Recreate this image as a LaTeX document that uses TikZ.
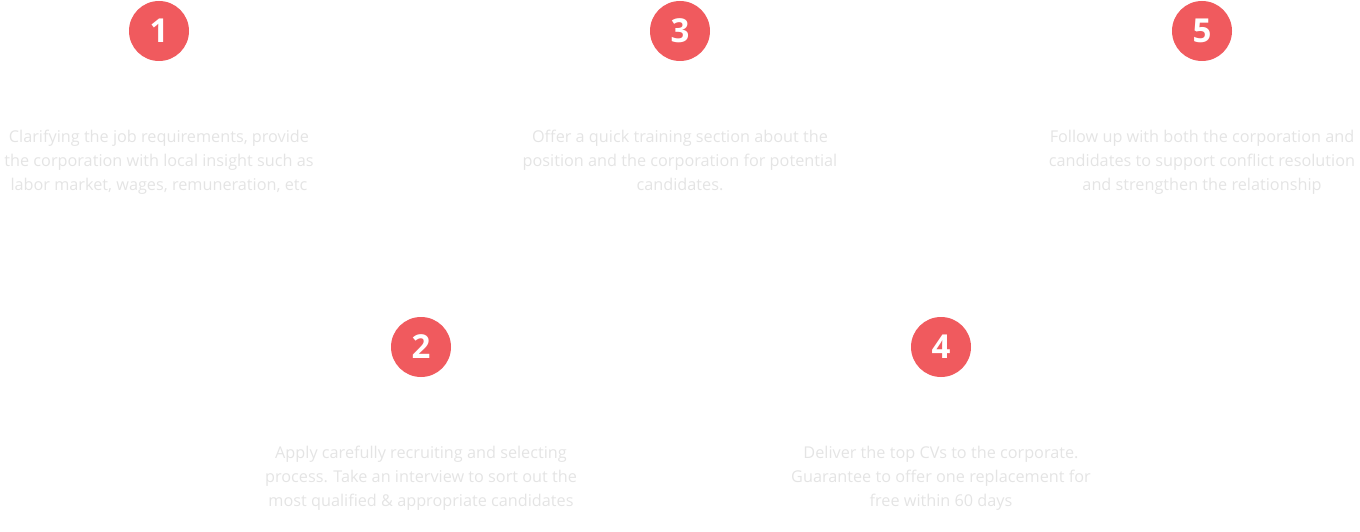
\documentclass[tikz,border=0pt]{standalone}
\usepackage{fontspec}
\setmainfont{Open Sans}
\definecolor{badge}{HTML}{F05A5E}
\definecolor{desc}{HTML}{E4E4E4}
\begin{document}
\begin{tikzpicture}[x=1pt,y=-1pt,
  badgestyle/.style={circle,fill=badge,minimum size=60pt,inner sep=0pt,text=white,font=\fontsize{33}{33}\selectfont\bfseries},
  descstyle/.style={text=desc,align=center,font=\fontsize{16.25}{24}\selectfont,inner sep=0pt,execute at end node=\strut}]
\useasboundingbox (0,0) rectangle (1360,532);
\node[badgestyle] (b1) at (159,31) {1};
\node[badgestyle] (b3) at (680,31) {3};
\node[badgestyle] (b5) at (1202,31) {5};
\node[badgestyle] (b2) at (421,347) {2};
\node[badgestyle] (b4) at (941,347) {4};
\node[descstyle] (t1) at (159,164) {Clarifying the job requirements, provide\\the corporation with local insight such as\\labor market, wages, remuneration, etc};
\node[descstyle] (t3) at (680,164) {Offer a quick training section about the\\position and the corporation for potential\\candidates.};
\node[descstyle] (t5) at (1202,164) {Follow up with both the corporation and\\candidates to support conflict resolution\\and strengthen the relationship};
\node[descstyle] (t2) at (421,480) {Apply carefully recruiting and selecting\\process. Take an interview to sort out the\\most qualified \& appropriate candidates};
\node[descstyle] (t4) at (941,480) {Deliver the top CVs to the corporate.\\Guarantee to offer one replacement for\\free within 60 days};
\end{tikzpicture}
\end{document}
